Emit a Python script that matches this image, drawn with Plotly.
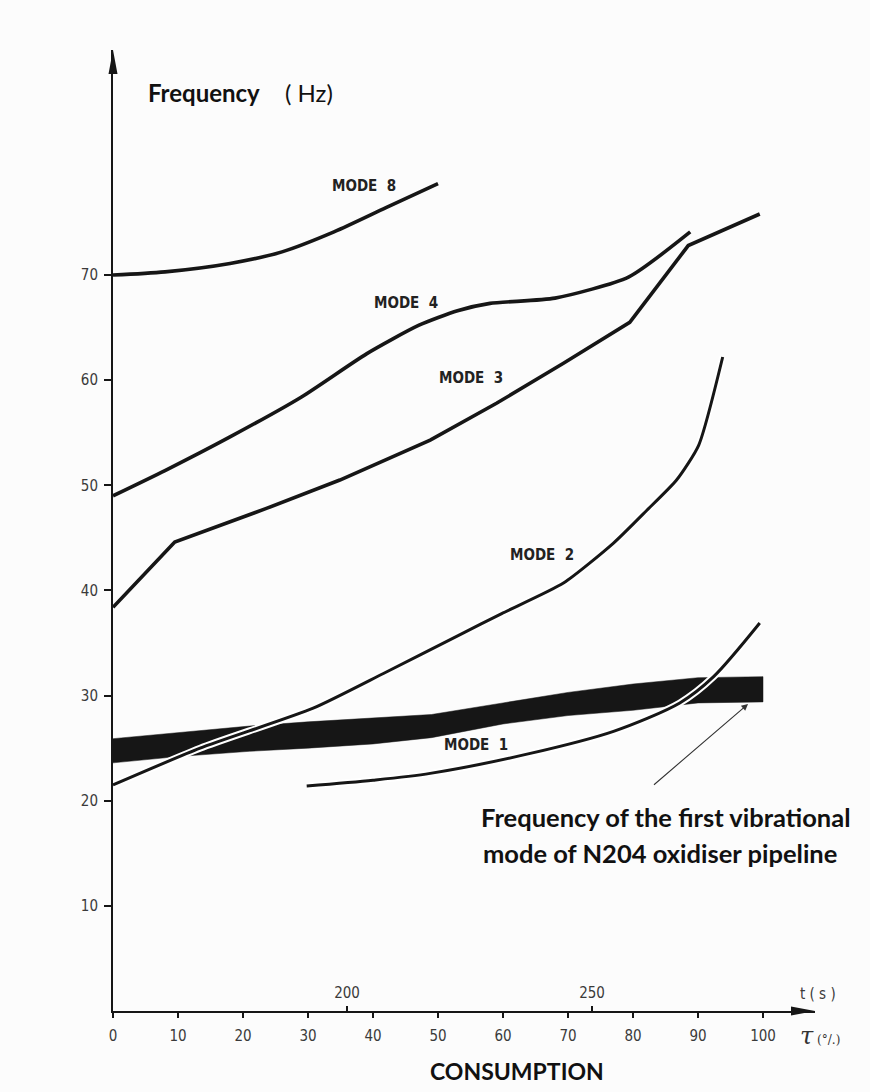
import plotly.graph_objects as go

# ---------------- data ----------------
x_ticks = [0, 10, 20, 30, 40, 50, 60, 70, 80, 90, 100]
y_ticks = [10, 20, 30, 40, 50, 60, 70]
t_ticks = [200, 250]          # t (s) tick labels
t_tick_pct = [36.0, 73.7]     # consumption (%) at which these t ticks sit

mode8_x = [0, 8, 18, 26, 34, 42, 50]
mode8_y = [70.0, 70.3, 71.1, 72.2, 74.1, 76.4, 78.7]

mode4_x = [0, 8, 18, 29, 39, 47, 53, 58, 68, 79.3, 88.8]
mode4_y = [49.0, 51.4, 54.6, 58.4, 62.5, 65.2, 66.6, 67.3, 67.8, 69.8, 74.1]

mode3_x = [0, 9.5, 23.6, 34.9, 48.8, 59, 69.3, 79.5, 88.5, 99.5]
mode3_y = [38.4, 44.6, 47.8, 50.5, 54.3, 57.8, 61.6, 65.5, 72.8, 75.8]

mode2_x = [0, 13.4, 30.8, 41.6, 53.4, 59.8, 69.3, 77, 82.1, 86.7, 90.1, 93.8]
mode2_y = [21.5, 25.0, 28.8, 32.1, 35.8, 37.8, 40.7, 44.5, 47.6, 50.5, 53.8, 62.2]

mode1_x = [29.8, 40, 48.8, 64.2, 77, 87.2, 92.4, 99.5]
mode1_y = [21.4, 21.95, 22.6, 24.5, 26.6, 29.3, 31.8, 36.9]

band_x = [0, 10, 21, 30, 40, 49, 60, 70, 80, 90, 100]
band_top = [25.9, 26.5, 27.1, 27.5, 27.9, 28.2, 29.3, 30.3, 31.1, 31.7, 31.8]
band_bottom = [23.6, 24.2, 24.7, 25.0, 25.4, 26.0, 27.3, 28.1, 28.6, 29.3, 29.4]

mode_labels = ["MODE 8", "MODE 4", "MODE 3", "MODE 2", "MODE 1"]
mode_label_x = [38.6, 45.1, 55.1, 66.0, 55.8]
mode_label_y = [78.5, 67.3, 60.2, 43.4, 25.3]

pipe_arrow_tail = (83.0, 21.4)
pipe_arrow_head = (97.7, 29.2)

# ---------------- layout geometry ----------------
W, H = 870, 1092
L, R, T, B = 113, 55, 50, 81
X_RANGE = [0, 108]
Y_RANGE = [0, 91.4]
PW, PH = W - L - R, H - T - B


def px(xp):
    return (xp - L) / PW


def py(yp):
    return (H - B - yp) / PH


# linear relation between consumption (%) and t (s)
slope = (t_ticks[1] - t_ticks[0]) / (t_tick_pct[1] - t_tick_pct[0])
t_range = [t_ticks[0] + (X_RANGE[0] - t_tick_pct[0]) * slope,
           t_ticks[0] + (X_RANGE[1] - t_tick_pct[0]) * slope]

INK = "#161616"
TICKFONT = dict(family="Liberation Sans Narrow, DejaVu Sans Condensed, Arial Narrow, sans-serif",
                size=15, color="#3a3a3a")
LABFONT = "DejaVu Sans Condensed, Liberation Sans Narrow, Arial Narrow, sans-serif"
TXTFONT = "Lato, Open Sans, sans-serif"

fig = go.Figure()

# black band (first vibrational mode of the pipeline)
fig.add_trace(go.Scatter(
    x=band_x + band_x[::-1], y=band_top + band_bottom[::-1],
    fill="toself", fillcolor=INK, mode="lines", line=dict(color=INK, width=0.5),
    hoverinfo="skip", showlegend=False))

curves = [
    (mode8_x, mode8_y, 3.6, False, 0.8),
    (mode4_x, mode4_y, 3.6, False, 0.6),
    (mode3_x, mode3_y, 3.6, False, 0.0),
    (mode2_x, mode2_y, 3.0, True, 0.6),
    (mode1_x, mode1_y, 3.0, True, 0.8),
]
for cx, cy, w, halo, sm in curves:
    shape = "spline" if sm > 0 else "linear"
    extra = {"smoothing": sm} if sm > 0 else {}
    if halo:
        fig.add_trace(go.Scatter(x=cx, y=cy, mode="lines",
                                 line=dict(color="white", width=w + 4, shape=shape, **extra),
                                 hoverinfo="skip", showlegend=False))
    fig.add_trace(go.Scatter(x=cx, y=cy, mode="lines",
                             line=dict(color=INK, width=w, shape=shape, **extra),
                             hoverinfo="skip", showlegend=False))

# invisible trace so the t (s) axis is drawn
fig.add_trace(go.Scatter(x=t_ticks, y=[0, 0], xaxis="x2", mode="markers",
                         marker=dict(opacity=0), hoverinfo="skip", showlegend=False))

annotations = []
for txt, lx, ly in zip(mode_labels, mode_label_x, mode_label_y):
    annotations.append(dict(x=lx, y=ly, xref="x", yref="y",
                            text="<b>" + txt.replace(" ", "&nbsp;&nbsp;") + "</b>",
                            showarrow=False, font=dict(family=LABFONT, size=15, color="#222")))

# pointer arrow
annotations.append(dict(x=pipe_arrow_head[0], y=pipe_arrow_head[1], xref="x", yref="y",
                        ax=pipe_arrow_tail[0], ay=pipe_arrow_tail[1], axref="x", ayref="y",
                        text="", showarrow=True, arrowhead=2, arrowsize=1.2, arrowwidth=1.1,
                        arrowcolor="#333"))

annotations += [
    dict(x=px(146), y=py(93), xref="paper", yref="paper", xanchor="left", yanchor="middle",
         text="<b>Frequency</b>", showarrow=False, font=dict(family=TXTFONT, size=24, color="#111")),
    dict(x=px(283), y=py(93), xref="paper", yref="paper", xanchor="left", yanchor="middle",
         text="( Hz)", showarrow=False, font=dict(family=TXTFONT, size=24, color="#111")),
    dict(x=px(479), y=py(817), xref="paper", yref="paper", xanchor="left", yanchor="middle",
         text="<b>Frequency of the first vibrational</b>", showarrow=False,
         font=dict(family=TXTFONT, size=25.5, color="#111")),
    dict(x=px(481), y=py(853), xref="paper", yref="paper", xanchor="left", yanchor="middle",
         text="<b>mode of N204 oxidiser pipeline</b>", showarrow=False,
         font=dict(family=TXTFONT, size=25.5, color="#111")),
    dict(x=px(517), y=py(1071), xref="paper", yref="paper", xanchor="center", yanchor="middle",
         text="<b>CONSUMPTION</b>", showarrow=False, font=dict(family=TXTFONT, size=23, color="#111")),
    dict(x=px(798), y=py(994), xref="paper", yref="paper", xanchor="left", yanchor="middle",
         text="t ( s )", showarrow=False, font=TICKFONT),
    dict(x=px(798), y=py(1036), xref="paper", yref="paper", xanchor="left", yanchor="middle",
         text="<span style='font-size:24px'><i>τ</i></span> (°/.)", showarrow=False,
         font=dict(family="DejaVu Serif, Liberation Serif, serif", size=12, color="#333")),
]

# arrowheads of the two axes (paper coordinates, derived from the layout geometry)
yx0, yy0 = px(L), py(T)
xx0, xy0 = px(W - R), py(H - B)
shapes = [
    dict(type="path", xref="paper", yref="paper", fillcolor=INK, line=dict(width=0),
         path=f"M {yx0} {yy0} L {px(L - 4.5)} {py(T + 24)} L {px(L + 4.5)} {py(T + 24)} Z"),
    dict(type="path", xref="paper", yref="paper", fillcolor=INK, line=dict(width=0),
         path=f"M {xx0} {xy0} L {px(W - R - 24)} {py(H - B - 4.5)} L {px(W - R - 24)} {py(H - B + 4.5)} Z"),
]

fig.update_layout(
    width=W, height=H,
    margin=dict(l=L, r=R, t=T, b=B, pad=0),
    paper_bgcolor="#fcfcfc", plot_bgcolor="#fcfcfc",
    showlegend=False,
    annotations=annotations,
    shapes=shapes,
    xaxis=dict(range=X_RANGE, tickvals=x_ticks, ticktext=[str(v) for v in x_ticks],
               showgrid=False, zeroline=False, showline=True, linecolor=INK, linewidth=2,
               ticks="outside", ticklen=5, tickwidth=1.5, tickcolor=INK,
               tickfont=TICKFONT, ticklabelstandoff=5, fixedrange=True),
    xaxis2=dict(overlaying="x", anchor="free", position=0, side="top", range=t_range,
                tickvals=t_ticks, ticktext=[str(v) for v in t_ticks],
                showgrid=False, zeroline=False, showline=False,
                ticks="outside", ticklen=5, tickwidth=1.5, tickcolor=INK,
                tickfont=TICKFONT, ticklabelstandoff=2),
    yaxis=dict(range=Y_RANGE, tickvals=y_ticks, ticktext=[str(v) for v in y_ticks],
               showgrid=False, zeroline=False, showline=True, linecolor=INK, linewidth=2,
               ticks="outside", ticklen=7, tickwidth=1.5, tickcolor=INK,
               tickfont=TICKFONT, ticklabelstandoff=3, fixedrange=True),
)

fig.write_html("out.html", config={"displayModeBar": False},
               post_script="document.body.style.margin='0';")
